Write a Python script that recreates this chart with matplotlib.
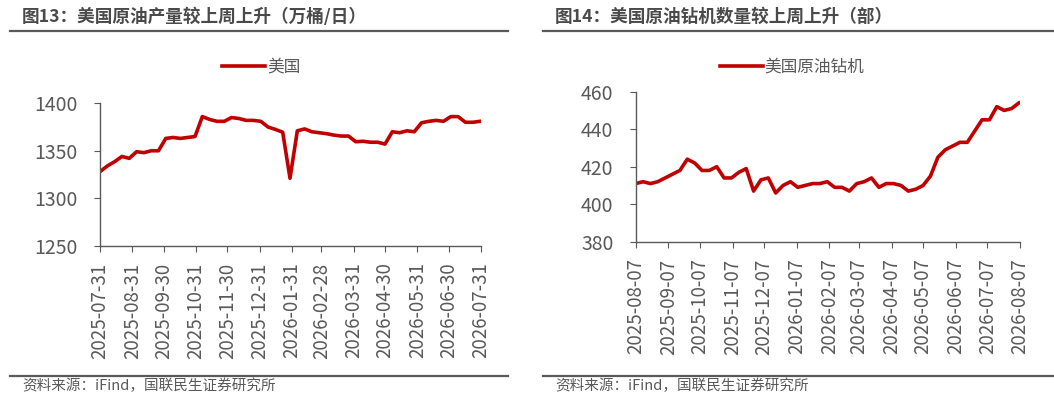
import numpy as np
import pandas as pd
import matplotlib
matplotlib.use("Agg")
import matplotlib.pyplot as plt
from matplotlib.lines import Line2D

plt.rcParams['font.family'] = ['Noto Sans CJK SC', 'DejaVu Sans']

RED = '#C00000'
GRAY = '#595959'
W = 1054.0
H = 403.0

# weekly US crude output, 10k bbl/day
prod_start = '2025-07-31'
prod_values = [1328, 1334, 1338.5, 1344, 1342, 1349, 1348, 1350, 1350, 1363,
               1364, 1363, 1364, 1365, 1386, 1383, 1381, 1381, 1385, 1384,
               1382, 1382, 1381, 1375, 1372.5, 1369.5, 1321, 1371, 1373, 1370,
               1369, 1368, 1366.5, 1365.5, 1365.5, 1359.5, 1360, 1359, 1359, 1357,
               1370, 1369, 1371, 1370, 1379.5, 1381, 1382, 1381, 1386, 1386,
               1380, 1380, 1381]
prod_ticks = pd.date_range('2025-07-31', '2026-07-31', freq='ME')

# weekly US oil rig count
rig_start = '2025-08-07'
rig_values = [411, 412, 411, 412, 414, 416, 418, 424, 422, 418,
              418, 420, 414, 414, 417, 419, 407, 413, 414, 406,
              410, 412, 409, 410, 411, 411, 412, 409, 409, 407,
              411, 412, 414, 409, 411, 411, 410, 407, 408, 410,
              415, 425, 429, 431, 433, 433, 439, 445, 445, 452,
              450, 451, 454]
rig_ticks = pd.date_range('2025-08-01', '2026-08-01', freq='MS') + pd.Timedelta(days=6)


def draw_panel(fig, rect, dates, values, ticks, ylim, yticks, label, legend_x):
    ax = fig.add_axes(rect)
    ax.plot(dates, values, color=RED, lw=2.6, label=label, solid_joinstyle='round')
    ax.set_xlim(ticks[0], ticks[-1])
    ax.set_ylim(*ylim)
    ax.set_yticks(yticks)
    ax.set_xticks(ticks)
    ax.set_xticklabels([t.strftime('%Y-%m-%d') for t in ticks], rotation=90)
    for s in ['top', 'right']:
        ax.spines[s].set_visible(False)
    for s in ['left', 'bottom']:
        ax.spines[s].set_color(GRAY)
        ax.spines[s].set_linewidth(1.0)
    ax.tick_params(axis='y', direction='out', length=4, color=GRAY, labelcolor=GRAY,
                   labelsize=14, pad=12)
    ax.tick_params(axis='x', direction='out', length=4, color=GRAY, labelcolor=GRAY,
                   labelsize=13.5, pad=8)
    ax.legend(loc='center', bbox_to_anchor=(legend_x / W, 1 - 67 / H),
              bbox_transform=fig.transFigure, frameon=False,
              fontsize=12, handlelength=2.6, handletextpad=0.1,
              labelcolor=GRAY)
    return ax


fig = plt.figure(figsize=(10.54, 4.03), dpi=100)

prod_dates = pd.date_range(prod_start, periods=len(prod_values), freq='7D')
rig_dates = pd.date_range(rig_start, periods=len(rig_values), freq='7D')

draw_panel(fig, [0.0949, 0.3903, 0.3615, 0.3534], prod_dates, prod_values, prod_ticks,
           (1250, 1400), [1250, 1300, 1350, 1400], '美国', 261)
draw_panel(fig, [0.6031, 0.4002, 0.3646, 0.3723], rig_dates, rig_values, rig_ticks,
           (380, 460), [380, 400, 420, 440, 460], '美国原油钻机', 792)

fig.text(22 / W, 1 - 17 / H, '图13：美国原油产量较上周上升（万桶/日）', fontsize=12.7,
         fontweight='bold', color='#4a4a4a', va='center', ha='left')
fig.text(555 / W, 1 - 17 / H, '图14：美国原油钻机数量较上周上升（部）', fontsize=12.7,
         fontweight='bold', color='#4a4a4a', va='center', ha='left')
for x0, x1 in [(10, 508), (543, 1054)]:
    fig.add_artist(Line2D([x0 / W, x1 / W], [1 - 31 / H] * 2, color=GRAY, lw=1.6))
    fig.add_artist(Line2D([x0 / W, x1 / W], [1 - 376 / H] * 2, color=GRAY, lw=1.6))
fig.text(22 / W, 1 - 386 / H, '资料来源：iFind，国联民生证券研究所', fontsize=10.5,
         color=GRAY, va='center', ha='left')
fig.text(555 / W, 1 - 386 / H, '资料来源：iFind，国联民生证券研究所', fontsize=10.5,
         color=GRAY, va='center', ha='left')

fig.savefig('out.png', dpi=100)
